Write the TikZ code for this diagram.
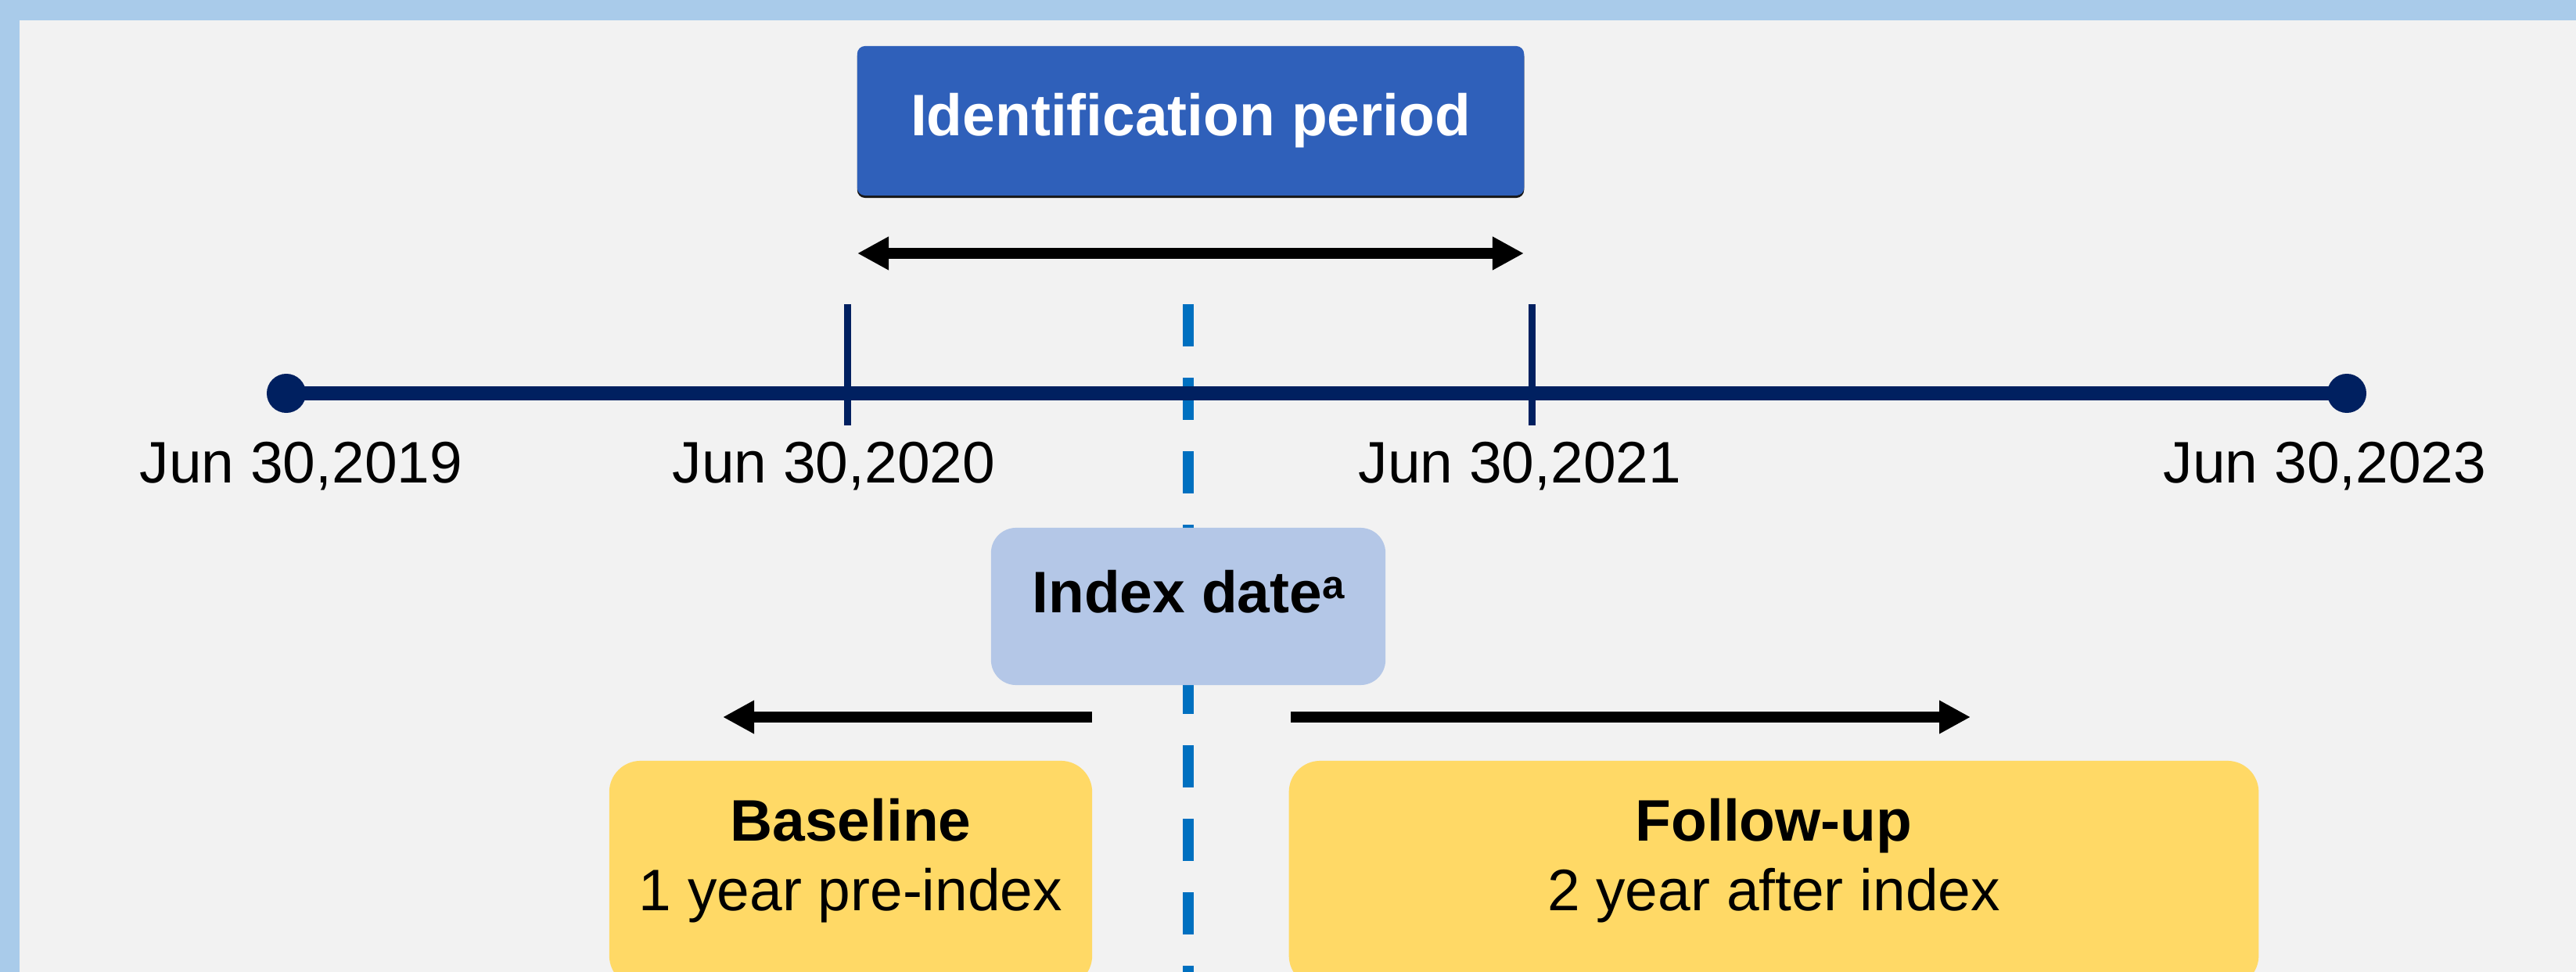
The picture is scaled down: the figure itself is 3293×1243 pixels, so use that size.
\documentclass[tikz,border=0pt]{standalone}
\usepackage{fontspec}
\setmainfont{Liberation Sans}
\usetikzlibrary{arrows.meta}
\usetikzlibrary{shadows}
\definecolor{frameblue}{RGB}{169,203,234}
\definecolor{panelgray}{RGB}{242,242,242}
\definecolor{navy}{RGB}{0,32,96}
\definecolor{periodblue}{RGB}{47,96,186}
\definecolor{indexblue}{RGB}{180,199,231}
\definecolor{dashblue}{RGB}{0,112,192}
\definecolor{winyellow}{RGB}{255,217,102}
\newcommand{\notemark}[1]{\raisebox{0.25em}{\fontsize{14.5}{14.5}\selectfont #1}}
\tikzstyle{txt}=[inner sep=0pt, font=\fontsize{21.3}{25.6}\selectfont]
\tikzstyle{datelabel}=[txt, anchor=base]
\tikzstyle{dot}=[circle, fill=navy, inner sep=0pt, minimum size=0.5cm]
\tikzstyle{tickline}=[navy, line width=0.09cm]
\tikzstyle{spanarrow}=[line width=0.14cm, >={Triangle[length=0.4cm, width=0.4cm]}]
\tikzstyle{idbox}=[txt, fill=periodblue, text=white, rounded corners=0.1cm, minimum width=8.52cm, minimum height=1.91cm, drop shadow={shadow xshift=0cm, shadow yshift=-0.03cm, fill=black, opacity=0.9}]
\tikzstyle{indexbox}=[txt, fill=indexblue, rounded corners=0.32cm, minimum width=5.04cm, minimum height=2.01cm, text height=0.72em, text depth=0.25em]
\tikzstyle{winbox}=[fill=winyellow, rounded corners=0.4cm, minimum height=2.89cm]

\begin{document}
\begin{tikzpicture}[x=0.01cm, y=-0.01cm]
    \useasboundingbox (0,0) rectangle (3293,1243);
    \clip (0,0) rectangle (3293,1243);
    \fill[frameblue] (0,0) rectangle (3293,1243);
    \fill[panelgray] (25,26) rectangle (3293,1243);
    % identification period
    \node[idbox]                       (idp) at (1522,154.5) {\bfseries Identification period};
    \coordinate (idL) at (1096,324);
    \coordinate (idR) at (1948,324);
    \draw[spanarrow, <->] (idL) -- (idR);
    % index line
    \coordinate (dtop) at (1519,389);
    \coordinate (dbot) at (1519,1300);
    \draw[dashblue, line width=0.14cm, dash pattern=on 0.54cm off 0.4cm] (dtop) -- (dbot);
    % timeline
    \node[dot]                         (d19) at (366,503) {};
    \node[dot]                         (d23) at (3000,503) {};
    \draw[navy, line width=0.17cm] (d19.center) -- (d23.center);
    \coordinate (t20a) at (1083,389);
    \coordinate (t20b) at (1083,544);
    \coordinate (t21a) at (1958,389);
    \coordinate (t21b) at (1958,544);
    \draw[tickline] (t20a) -- (t20b);
    \draw[tickline] (t21a) -- (t21b);
    \node[datelabel]                   (l19) at (385,617)  {Jun 30,2019};
    \node[datelabel]                   (l20) at (1066,617) {Jun 30,2020};
    \node[datelabel]                   (l21) at (1943,617) {Jun 30,2021};
    \node[datelabel]                   (l23) at (2972,617) {Jun 30,2023};
    % index date
    \node[indexbox]                    (idx) at (1519,775.5) {\bfseries Index date\notemark{a}};
    \coordinate (bA) at (1396,917);
    \coordinate (bB) at (924,917);
    \coordinate (fA) at (1650,917);
    \coordinate (fB) at (2519,917);
    \draw[spanarrow, ->] (bA) -- (bB);
    \draw[spanarrow, ->] (fA) -- (fB);
    % windows
    \node[winbox, minimum width=6.17cm]  (base) at (1087.5,1117.5) {};
    \node[winbox, minimum width=12.39cm] (fup)  at (2267.5,1117.5) {};
    \node[datelabel]                   (baseT) at (1087.5,1075) {\bfseries Baseline};
    \node[datelabel]                   (baseS) at (1087.5,1164) {1 year pre-index};
    \node[datelabel]                   (fupT)  at (2267.5,1075) {\bfseries Follow-up};
    \node[datelabel]                   (fupS)  at (2267.5,1164) {2 year after index};
\end{tikzpicture}
\end{document}
